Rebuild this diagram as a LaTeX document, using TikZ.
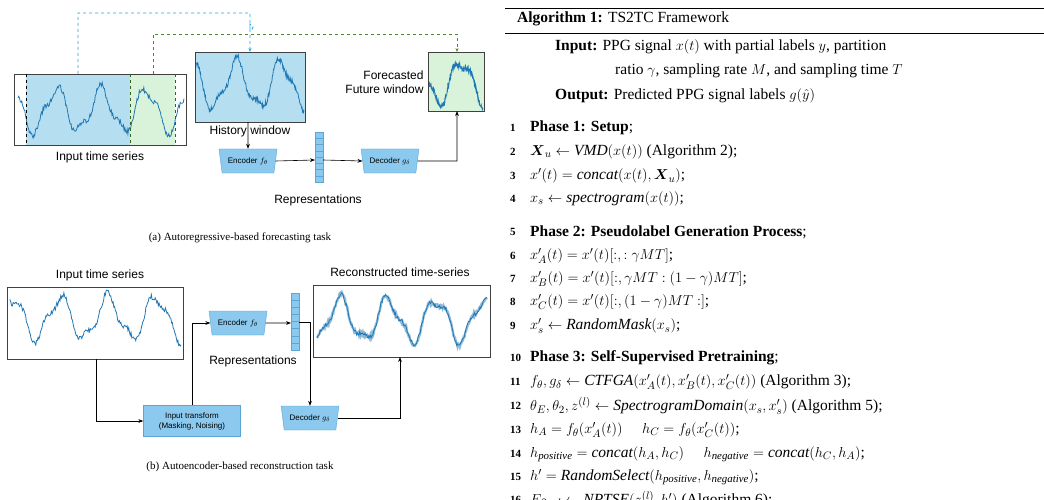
\documentclass[tikz,border=0pt]{standalone}
\usepackage{amsmath}
\usepackage{fontspec}
\setmainfont{Liberation Serif}
\setsansfont{Liberation Sans}
\usetikzlibrary{shapes.geometric,arrows.meta}

\definecolor{histblue}{HTML}{B5DFF0}
\definecolor{futgreen}{HTML}{D8F3DA}
\definecolor{sigblue}{HTML}{1F77B4}
\definecolor{dashblue}{HTML}{2AA7E1}
\definecolor{dashgreen}{HTML}{4A8A2C}
\definecolor{encfill}{HTML}{8CC9EE}
\definecolor{encline}{HTML}{5AA6D6}

\tikzset{
  box/.style={draw=black!75,line width=0.8pt},
  sig/.style={sigblue,line width=0.8pt},
  arr/.style={-{Stealth[length=5pt]},line width=0.6pt},
  coder/.style={trapezium,shape border rotate=180,trapezium stretches=true,trapezium angle=75,
    draw=encline,fill=encfill,minimum width=58pt,minimum height=24pt,inner sep=1pt,
    font=\sffamily\fontsize{8}{9}\selectfont},
  lbl/.style={font=\sffamily\fontsize{12}{14}\selectfont},
  subcap/.style={font=\fontsize{11}{13}\selectfont},
  alg/.style={anchor=west,inner sep=0pt,font=\fontsize{15.5}{18}\selectfont},
  num/.style={anchor=west,inner sep=0pt,font=\bfseries\fontsize{11}{13}\selectfont}
}
% noisy ppg-like wave: x0, x1, y centre, amplitude, angular factor
\newcommand\ppgwave[5]{%
  \draw[sig] plot[domain=#1:#2,samples=220] (\x,{#3-#4*sin(#5*\x)-0.3*#4*sin(2.3*#5*\x+40)+2.6*rand});
}
% representation vector: x, y top, y bottom
\newcommand\repvec[3]{%
  \draw[encline,fill=encfill] (#1,#2) rectangle ++(8,#3-#2);
  \foreach \k in {1,...,7}{\draw[encline] (#1,{#2+\k*(#3-#2)/8}) -- ++(8,0);}
}

\begin{document}
\begin{tikzpicture}[x=1pt,y=-1pt]
\pgfmathsetseed{7}
\useasboundingbox[fill=white] (0,0) rectangle (1044,500);

%% (a) forecasting
\fill[histblue] (26,74) rectangle (130,145);
\fill[futgreen] (130,74) rectangle (175,145);
\ppgwave{18}{184}{110}{20}{8}
\draw[box] (14,74) rectangle (186,145);
\draw[dashed,line width=0.8pt] (26,74) -- (26,145);
\draw[dashed,dashgreen!70!black,line width=0.8pt] (130,74) -- (130,145);
\draw[dashed,dashgreen!70!black,line width=0.8pt] (175,74) -- (175,145);
\node[lbl] (inA) at (100,157) {Input time series};

\fill[histblue] (195,52) rectangle (305,122);
\ppgwave{196}{304}{85}{22}{8}
\draw[box] (195,52) rectangle (305,122);
\node[lbl,fill=white,inner sep=1pt] (histlbl) at (250,131) {History window};

\fill[futgreen] (428,52) rectangle (484,111);
\ppgwave{429}{483}{82}{20}{8}
\draw[box] (428,52) rectangle (484,111);
\node[lbl,align=right,anchor=east] (futlbl) at (427,82) {Forecasted\\Future window};

\coordinate (histtop) at (250,52);
\coordinate (futtop) at (457,52);
\draw[dashed,dashblue,line width=0.9pt,-{Stealth[length=4pt]}] (78,74) -- (78,13) -- (250,13) -- (250,30)
  arc[start angle=90,end angle=-90,radius=3] -- (histtop);
\draw[dashed,dashgreen,line width=0.9pt,-{Stealth[length=4pt]}] (153,74) -- (153,34) -- (457,34) -- (futtop);

\node[coder] (encA) at (248,161) {Encoder $f_\theta$};
\repvec{315}{132}{182}
\coordinate (vecA) at (315,160);
\node[coder] (decA) at (390,161) {Decoder $g_\delta$};
\node[lbl] (repA) at (318,200) {Representations};
\draw[arr] (248,122) -- (encA.north);
\draw[arr] (encA.east) -- (vecA);
\draw[arr] (323,160) -- (decA.west);
\draw[arr] (decA.east) -- (457,161) -- (457,111);
\node[subcap] (capA) at (240,238) {(a) Autoregressive-based forecasting task};

%% (b) reconstruction
\node[lbl] (inB) at (100,275) {Input time series};
\ppgwave{10}{181}{318}{20}{7.5}
\draw[box] (7,287) rectangle (183,359);
\node[lbl] (recB) at (400,272) {Reconstructed time-series};
\draw[sigblue!50,line width=2.4pt] plot[domain=317:487,samples=220] (\x,{320-20*sin(7.5*\x+60)-6*sin(17*\x+40)+2*rand});
\draw[sig] plot[domain=317:487,samples=220] (\x,{320-20*sin(7.5*\x+60)-6*sin(17*\x+40)+2*rand});
\draw[box] (313,285) rectangle (490,357);

\node[coder] (encB) at (238,323) {Encoder $f_\theta$};
\repvec{291}{293}{350}
\coordinate (vecB) at (291,323);
\node[lbl] (repB) at (253,361) {Representations};
\node[draw=encline,fill=encfill,minimum width=97pt,minimum height=31pt,align=center,inner sep=1pt,
  font=\sffamily\fontsize{8}{10}\selectfont] (trans) at (192,421) {Input transform\\(Masking, Noising)};
\node[coder] (decB) at (310,418) {Decoder $g_\delta$};
\draw[arr] (96,359) |- (trans.west);
\draw[arr] (trans.north) |- (encB.west);
\draw[arr] (encB.east) -- (vecB);
\draw[arr] (299,322) -| (decB.north);
\draw[arr] (decB.east) -| (400,357);
\node[subcap] (capB) at (240,467) {(b) Autoencoder-based reconstruction task};

%% algorithm
\draw[line width=0.8pt] (505,8) -- (1044,8);
\draw[line width=0.5pt] (505,33) -- (1044,33);
\node[alg] (title) at (517,19) {\textbf{Algorithm 1:} TS2TC Framework};
\node[alg] (inp) at (555,47) {\textbf{Input:} PPG signal $x(t)$ with partial labels $y$, partition};
\node[alg] (inp2) at (615,71) {ratio $\gamma$, sampling rate $M$, and sampling time $T$};
\node[alg] (outp) at (555,96) {\textbf{Output:} Predicted PPG signal labels $g(\hat{y})$};
\foreach \n/\y in {1/128,2/152,3/176,4/199,5/232,6/256,7/279,8/302,9/326,10/358,11/382,12/406,13/430,14/454,15/477,16/500}
  \node[num] (n\n) at (510,\y) {\n};
\node[alg] (l1) at (530,128) {\textbf{Phase 1: Setup};};
\node[alg] (l2) at (530,152) {$\boldsymbol{X}_u \leftarrow \mathit{VMD}(x(t))$ (Algorithm 2);};
\node[alg] (l3) at (530,176) {$x'(t) = \mathit{concat}(x(t),\boldsymbol{X}_u)$;};
\node[alg] (l4) at (530,199) {$x_s \leftarrow \mathit{spectrogram}(x(t))$;};
\node[alg] (l5) at (530,232) {\textbf{Phase 2: Pseudolabel Generation Process};};
\node[alg] (l6) at (530,256) {$x'_A(t) = x'(t)[:,:\gamma MT]$;};
\node[alg] (l7) at (530,279) {$x'_B(t) = x'(t)[:,\gamma MT:(1-\gamma)MT]$;};
\node[alg] (l8) at (530,302) {$x'_C(t) = x'(t)[:,(1-\gamma)MT:]$;};
\node[alg] (l9) at (530,326) {$x'_s \leftarrow \mathit{RandomMask}(x_s)$;};
\node[alg] (l10) at (530,358) {\textbf{Phase 3: Self-Supervised Pretraining};};
\node[alg] (l11) at (530,382) {$f_\theta, g_\delta \leftarrow \mathit{CTFGA}(x'_A(t),x'_B(t),x'_C(t))$ (Algorithm 3);};
\node[alg] (l12) at (530,406) {$\theta_E,\theta_2,z^{(l)} \leftarrow \mathit{SpectrogramDomain}(x_s,x'_s)$ (Algorithm 5);};
\node[alg] (l13) at (530,430) {$h_A = f_\theta(x'_A(t)) \quad\; h_C = f_\theta(x'_C(t))$;};
\node[alg] (l14) at (530,454) {$h_{\mathit{positive}} = \mathit{concat}(h_A,h_C) \quad\; h_{\mathit{negative}} = \mathit{concat}(h_C,h_A)$;};
\node[alg] (l15) at (530,477) {$h' = \mathit{RandomSelect}(h_{\mathit{positive}},h_{\mathit{negative}})$;};
\node[alg] (l16) at (530,500) {$E_{\mathit{final}} \leftarrow \mathit{NPTSE}(z^{(l)},h')$ (Algorithm 6);};
\end{tikzpicture}
\end{document}
